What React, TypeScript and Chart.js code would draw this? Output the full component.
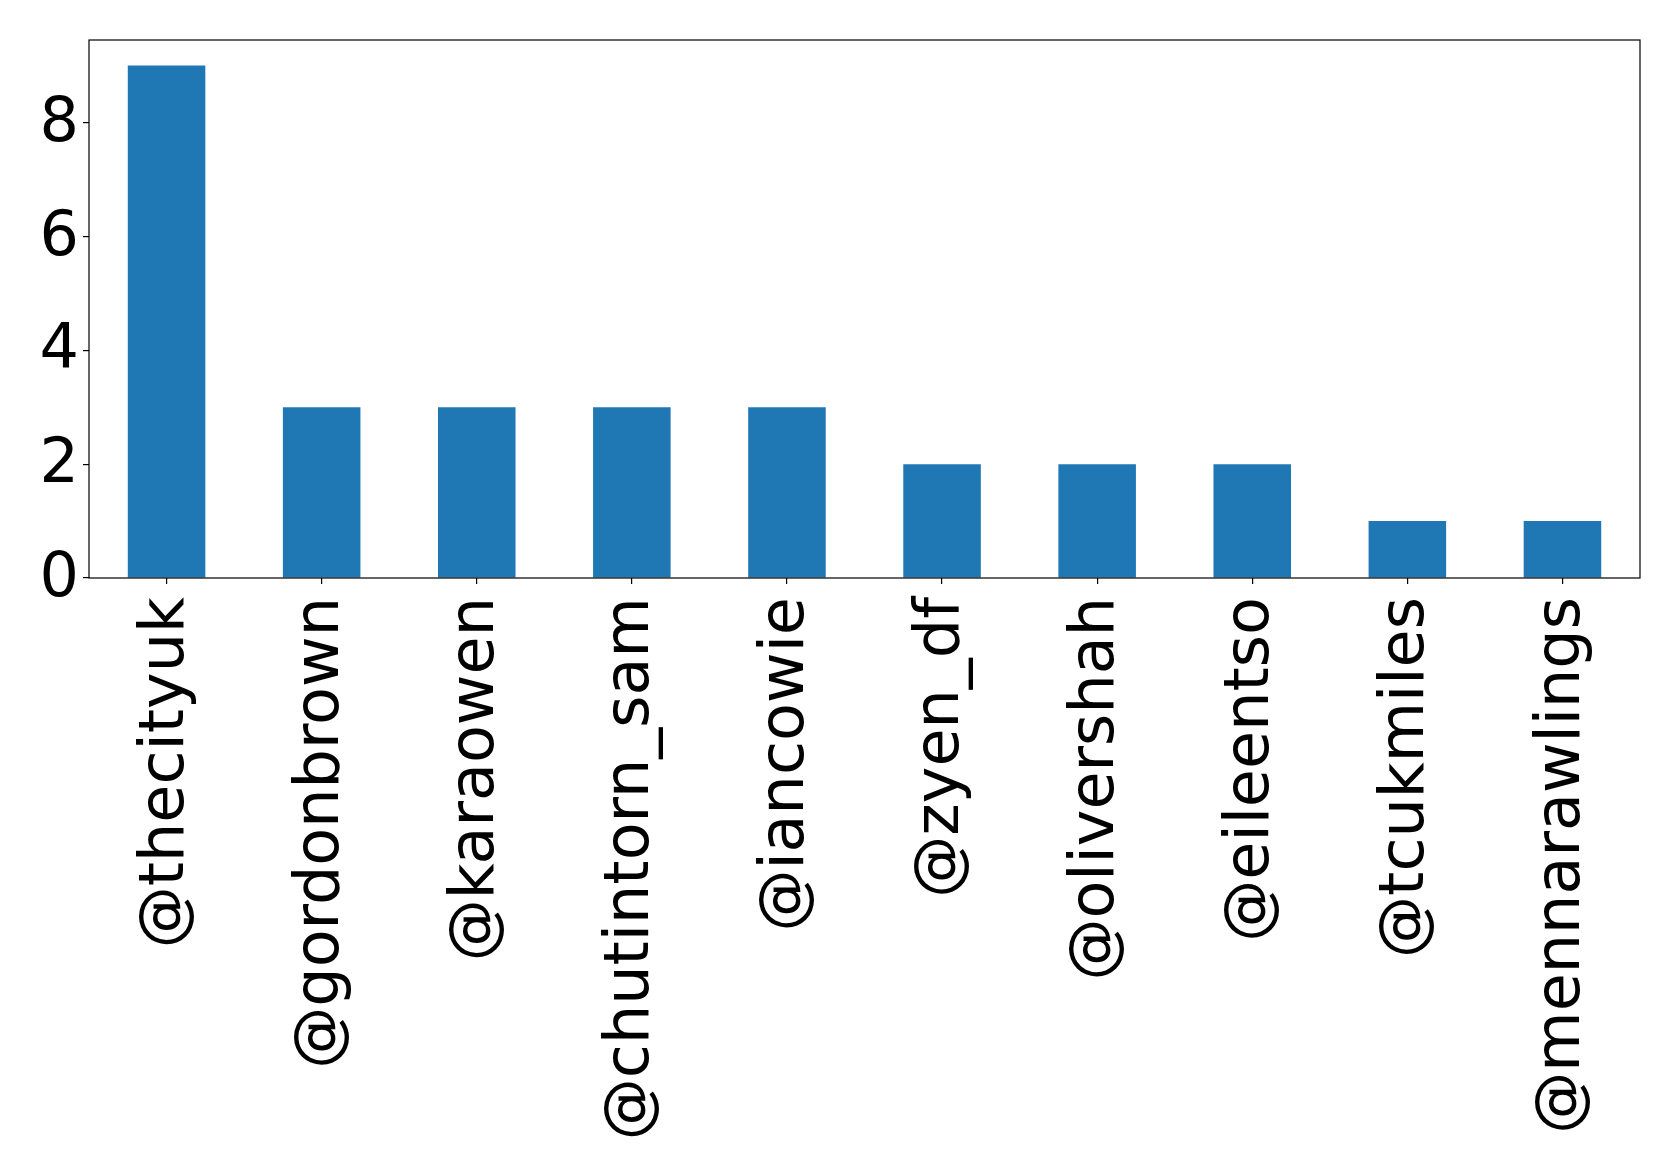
import React, { useEffect, useRef } from "react";
import { Chart, registerables } from "chart.js";

Chart.register(...registerables);

const handles: string[] = [
  "@thecityuk",
  "@gordonbrown",
  "@karaowen",
  "@chutintorn_sam",
  "@iancowie",
  "@zyen_df",
  "@olivershah",
  "@eileentso",
  "@tcukmiles",
  "@mennarawlings",
];

const mentionCounts: number[] = [9, 3, 3, 3, 3, 2, 2, 2, 1, 1];

const yTickValues: number[] = [0, 2, 4, 6, 8];

const W = 1679;
const H = 1175;
const AREA = { left: 89, top: 40, right: 1640, bottom: 578 };

// Draws the full black frame around the plotting area.
const framePlugin = {
  id: "frame",
  afterDatasetsDraw(chart: any) {
    const { ctx, chartArea } = chart;
    ctx.save();
    ctx.strokeStyle = "#000";
    ctx.lineWidth = 1.2;
    ctx.strokeRect(
      chartArea.left,
      chartArea.top,
      chartArea.right - chartArea.left,
      chartArea.bottom - chartArea.top
    );
    ctx.restore();
  },
};

export default function App() {
  const canvasRef = useRef<HTMLCanvasElement | null>(null);

  useEffect(() => {
    if (!canvasRef.current) return;
    const font = { family: "'DejaVu Sans', sans-serif", size: 62 };
    const chart = new Chart(canvasRef.current, {
      type: "bar",
      data: {
        labels: handles,
        datasets: [
          {
            data: mentionCounts,
            backgroundColor: "#1f77b4",
            borderWidth: 0,
            categoryPercentage: 1,
            barPercentage: 0.5,
          },
        ],
      },
      options: {
        responsive: false,
        animation: false,
        layout: {
          padding: { top: AREA.top, right: W - AREA.right, left: 0, bottom: 0 },
        },
        plugins: {
          legend: { display: false },
          tooltip: { enabled: false },
        },
        scales: {
          x: {
            grid: {
              display: true,
              offset: false,
              drawOnChartArea: false,
              drawTicks: true,
              tickLength: 6,
              color: "#000",
              lineWidth: 1.2,
            },
            border: { display: false },
            ticks: {
              color: "#000",
              font,
              minRotation: 90,
              maxRotation: 90,
              autoSkip: false,
              padding: 13,
            },
            afterFit(scale: any) {
              scale.height = H - AREA.bottom;
              scale.paddingLeft = 0;
              scale.paddingRight = 0;
            },
          },
          y: {
            min: 0,
            max: 9.45,
            grid: {
              display: true,
              drawOnChartArea: false,
              drawTicks: true,
              tickLength: 6,
              color: "#000",
              lineWidth: 1.2,
            },
            border: { display: false },
            ticks: {
              color: "#000",
              font,
              padding: 4,
              labelOffset: 2,
              includeBounds: false,
            },
            afterBuildTicks(scale: any) {
              scale.ticks = yTickValues.map((v) => ({ value: v }));
            },
            afterFit(scale: any) {
              scale.width = AREA.left;
              scale.paddingTop = 0;
              scale.paddingBottom = 0;
            },
          },
        },
      },
      plugins: [framePlugin],
    });
    return () => chart.destroy();
  }, []);

  return (
    <div style={{ position: "absolute", left: 0, top: 0, width: W, height: H, background: "#fff" }}>
      <canvas ref={canvasRef} width={W} height={H} style={{ display: "block" }} />
    </div>
  );
}
